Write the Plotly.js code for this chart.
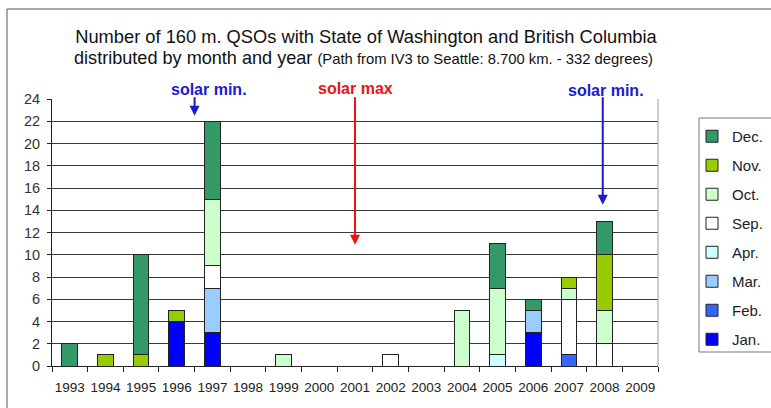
<!DOCTYPE html>
<html>
<head>
<meta charset="utf-8">
<script src="https://cdn.plot.ly/plotly-3.0.1.min.js"></script>
<style>
  html, body { margin: 0; padding: 0; background: #fff; }
  #chart { width: 771px; height: 408px; }
</style>
</head>
<body>
<div id="chart"></div>
<script>
// Years on the category axis
const years = ['1993','1994','1995','1996','1997','1998','1999','2000','2001',
               '2002','2003','2004','2005','2006','2007','2008','2009'];

// QSO counts per month, one value per year
const jan = [0,0,0,4,3,0,0,0,0,0,0,0,0,3,0,0,0];
const feb = [0,0,0,0,0,0,0,0,0,0,0,0,0,0,1,0,0];
const mar = [0,0,0,0,4,0,0,0,0,0,0,0,0,2,0,0,0];
const apr = [0,0,0,0,0,0,0,0,0,0,0,0,1,0,0,0,0];
const sep = [0,0,0,0,2,0,0,0,0,1,0,0,0,0,5,2,0];
const oct = [0,0,0,0,6,0,1,0,0,0,0,5,6,0,1,3,0];
const nov = [0,1,1,1,0,0,0,0,0,0,0,0,0,0,1,5,0];
const dec = [2,0,9,0,7,0,0,0,0,0,0,0,4,1,0,3,0];

const monthNames  = ['Jan.','Feb.','Mar.','Apr.','Sep.','Oct.','Nov.','Dec.'];
const monthSeries = [jan, feb, mar, apr, sep, oct, nov, dec];
const monthColors = ['#0000FF','#3366FF','#99CCFF','#CCFFFF','#FFFFFF','#CCFFCC','#99CC00','#339966'];

// Stacked from January upwards; legend lists December first
const traces = monthSeries.map((vals, i) => ({
  type: 'bar',
  name: monthNames[i],
  legendgroup: monthNames[i],
  legendrank: monthNames.length - i,
  x: years,
  y: vals.map(v => v === 0 ? null : v),
  marker: { color: monthColors[i], line: { color: '#222', width: 1 } },
  hoverinfo: 'x+y+name'
}));

// Plot-area geometry in pixels, used to place the frame, legend box and titles
const W = 771, H = 408;
const L = 52, R = 113, T = 99, B = 42;
const pw = W - L - R, ph = H - T - B;
const px = x => (x - L) / pw;
const py = y => (H - B - y) / ph;

const FONT = 'Liberation Sans, Arial, sans-serif';
const BLUE = '#1a1ad4', RED = '#ee1111';

const layout = {
  width: W, height: H,
  margin: { l: L, r: R, t: T, b: B, pad: 0, autoexpand: false },
  paper_bgcolor: '#fff',
  plot_bgcolor: '#fff',
  barmode: 'stack',
  bargap: 0.56,
  font: { family: FONT, color: '#222' },
  title: {
    text: 'Number of 160 m. QSOs with State of Washington and British Columbia',
    font: { size: 18.3, color: '#111', family: FONT },
    x: 366 / W, xanchor: 'center', xref: 'container',
    y: 1 - 37 / H, yanchor: 'middle', yref: 'container'
  },
  xaxis: {
    type: 'category',
    tickson: 'boundaries',
    tickangle: 0,
    ticks: 'outside', ticklen: 5, tickcolor: '#222', tickwidth: 1,
    showline: true, linecolor: '#222', linewidth: 1,
    showgrid: false,
    tickfont: { size: 13.5, color: '#222' },
    ticklabelstandoff: 9,
    automargin: false,
    fixedrange: true
  },
  yaxis: {
    range: [0, 24],
    dtick: 2,
    ticks: 'outside', ticklen: 4, tickcolor: '#222',
    showline: true, linecolor: '#222', linewidth: 1,
    showgrid: true, gridcolor: '#3a3a3a', gridwidth: 1,
    zeroline: false,
    tickfont: { size: 14.5, color: '#333' },
    ticklabelstandoff: 4,
    automargin: false,
    fixedrange: true
  },
  legend: {
    x: px(692), xanchor: 'left',
    y: py(120), yanchor: 'top',
    traceorder: 'grouped',
    tracegroupgap: 6.5,
    bgcolor: 'rgba(0,0,0,0)',
    borderwidth: 0,
    font: { size: 15, color: '#222' }
  },
  shapes: [
    // outer frame
    { type: 'rect', xref: 'paper', yref: 'paper',
      x0: px(7), x1: px(800), y0: py(420), y1: py(9),
      line: { color: '#555', width: 1 }, fillcolor: 'rgba(0,0,0,0)' },
    // right edge of plot area
    { type: 'line', xref: 'paper', yref: 'paper',
      x0: 1, x1: 1, y0: 0, y1: 1, line: { color: '#999', width: 1 } },
    // legend box
    { type: 'rect', xref: 'paper', yref: 'paper',
      x0: px(699), x1: px(800), y0: py(352), y1: py(118),
      line: { color: '#777', width: 1 }, fillcolor: 'rgba(0,0,0,0)' }
  ],
  annotations: [
    // second title line
    { text: 'distributed by month and year <span style="font-size:14.8px">(Path from IV3 to Seattle: 8.700 km. - 332 degrees)</span>',
      xref: 'paper', yref: 'paper', x: px(363), y: py(58), xanchor: 'center', yanchor: 'middle',
      showarrow: false, font: { size: 18.1, color: '#111', family: FONT } },

    { text: '<b>solar min.</b>', xref: 'paper', yref: 'paper', x: px(209), y: py(90),
      xanchor: 'center', yanchor: 'middle',
      showarrow: false, font: { size: 16, color: BLUE } },
    { text: '', x: 3.5, y: 22.5, ax: 3.5, ay: 24.3, xref: 'x', yref: 'y', axref: 'x', ayref: 'y',
      showarrow: true, arrowhead: 2, arrowsize: 1, arrowwidth: 2, arrowcolor: BLUE, standoff: 0 },

    { text: '<b>solar max</b>', xref: 'paper', yref: 'paper', x: px(355), y: py(89),
      xanchor: 'center', yanchor: 'middle',
      showarrow: false, font: { size: 16, color: RED } },
    { text: '', x: 8, y: 10.9, ax: 8, ay: 24.3, xref: 'x', yref: 'y', axref: 'x', ayref: 'y',
      showarrow: true, arrowhead: 2, arrowsize: 1, arrowwidth: 2, arrowcolor: RED, standoff: 0 },

    { text: '<b>solar min.</b>', xref: 'paper', yref: 'paper', x: px(606), y: py(91),
      xanchor: 'center', yanchor: 'middle',
      showarrow: false, font: { size: 16, color: BLUE } },
    { text: '', x: 14.95, y: 14.5, ax: 14.95, ay: 24.3, xref: 'x', yref: 'y', axref: 'x', ayref: 'y',
      showarrow: true, arrowhead: 2, arrowsize: 1, arrowwidth: 2, arrowcolor: BLUE, standoff: 0 }
  ]
};

Plotly.newPlot('chart', traces, layout, { staticPlot: true, displayModeBar: false });
</script>
</body>
</html>
